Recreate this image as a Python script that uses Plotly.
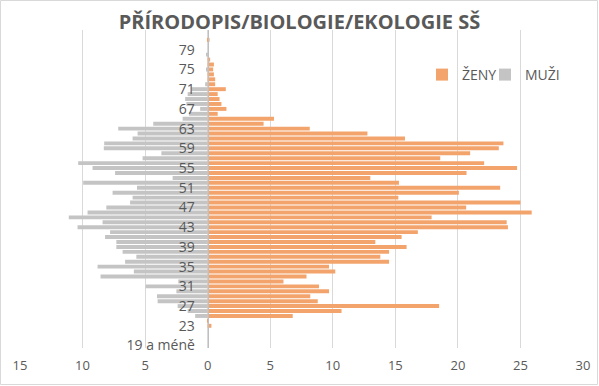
import plotly.graph_objects as go

# Categories (age), bottom to top
ages = ["19 a méně"] + [str(a) for a in range(20, 82)]

# Women (ŽENY), values per age category
zeny = [0, 0, 0, 0, 0.3, 0.05, 6.8, 10.7, 18.5, 8.8,
        8.2, 9.7, 8.9, 6.06, 7.9, 10.2, 9.7, 14.5, 13.8, 14.5,
        15.9, 13.4, 15.5, 16.8, 24.0, 23.9, 17.9, 25.9, 20.66, 25.0,
        15.24, 20.08, 23.38, 15.29, 13.0, 20.69, 24.73, 22.1, 18.59, 20.98,
        23.27, 23.64, 15.77, 12.77, 8.16, 4.47, 5.3, 0.8, 1.5, 1.1,
        0.95, 0.8, 1.45, 0.6, 0.6, 0.5, 0.44, 0.5, 0.2, 0,
        0, 0, 0.15]

# Men (MUŽI), values per age category
muzi = [0, 0, 0, 0, 0, 0, 1.0, 1.6, 2.4, 4.0,
        4.05, 2.5, 4.96, 2.35, 8.56, 5.9, 8.8, 6.6, 5.7, 6.8,
        7.3, 7.3, 8.2, 7.8, 10.4, 8.4, 11.1, 9.6, 8.1, 6.2,
        6.0, 7.6, 5.65, 9.95, 2.8, 7.4, 9.2, 10.35, 5.2, 3.7,
        8.3, 8.27, 6.0, 5.6, 7.15, 4.35, 2.0, 1.5, 0.6, 1.7,
        1.8, 1.6, 1.28, 0.2, 0, 0, 0.12, 0, 0, 0.1,
        0, 0, 0]

x_ticks = [-15, -10, -5, 0, 5, 10, 15, 20, 25, 30]
x_ticktext = [str(abs(v)) for v in x_ticks]
y_ticks = ages[::4]

TXT = "#595959"
FONT = "Open Sans"

fig = go.Figure()
fig.add_trace(go.Bar(y=ages, x=zeny, orientation="h", name="ŽENY",
                     legend="legend2",
                     marker=dict(color="#F3A46C", line=dict(width=0))))
fig.add_trace(go.Bar(y=ages, x=[-v for v in muzi], orientation="h", name="MUŽI",
                     legend="legend",
                     marker=dict(color="#C4C4C4", line=dict(width=0))))

L, R, T, B = 20, 16, 30, 38
W, H = 599, 386
pw, ph = W - L - R, H - T - B

leg_common = dict(orientation="h", xanchor="left",
                  y=(H - B - 75) / ph, yanchor="middle",
                  font=dict(family=FONT, size=14, color=TXT),
                  bgcolor="rgba(0,0,0,0)", borderwidth=0, itemwidth=30,
                  entrywidth=60, entrywidthmode="pixels")

fig.update_layout(
    width=W, height=H,
    margin=dict(l=L, r=R, t=T, b=B, autoexpand=False),
    paper_bgcolor="white", plot_bgcolor="white",
    barmode="relative", bargap=0.2,
    font=dict(family=FONT, color=TXT, size=13),
    title=dict(text="<b>PŘÍRODOPIS/BIOLOGIE/EKOLOGIE SŠ</b>",
               x=0.5, xanchor="center", y=1 - 22 / H, yanchor="middle",
               font=dict(family=FONT, size=20, color=TXT)),
    legend2=dict(x=(422 - L) / pw, **leg_common),
    legend=dict(x=(485 - L) / pw, **leg_common),
    showlegend=True,
    xaxis=dict(range=[-15, 30], tickvals=x_ticks, ticktext=x_ticktext,
               showgrid=True, gridcolor="#d9d9d9", gridwidth=1,
               zeroline=False, showline=False, ticks="", automargin=False,
               ticklabelstandoff=8, tickfont=dict(size=13, color=TXT)),
    yaxis=dict(type="category", categoryorder="array", categoryarray=ages,
               tickmode="array", tickvals=y_ticks, ticktext=y_ticks,
               range=[-0.5, 64.0], anchor="free", position=1 / 3,
               showgrid=False, zeroline=False, showline=True, automargin=False,
               linecolor="#bfbfbf", linewidth=1, ticks="",
               ticklabelstandoff=10, tickfont=dict(size=14, color=TXT)),
    shapes=[dict(type="rect", xref="paper", yref="paper",
                 x0=(0.5 - L) / pw, x1=(W - 1.5 - L) / pw,
                 y0=(H - B - (H - 1.5)) / ph, y1=(H - B - 0.5) / ph,
                 line=dict(color="#d9d9d9", width=1), layer="below")],
)

fig.write_html("out.html",
               config={"displayModeBar": False},
               post_script="document.body.style.margin='0';document.body.style.overflow='hidden';")
